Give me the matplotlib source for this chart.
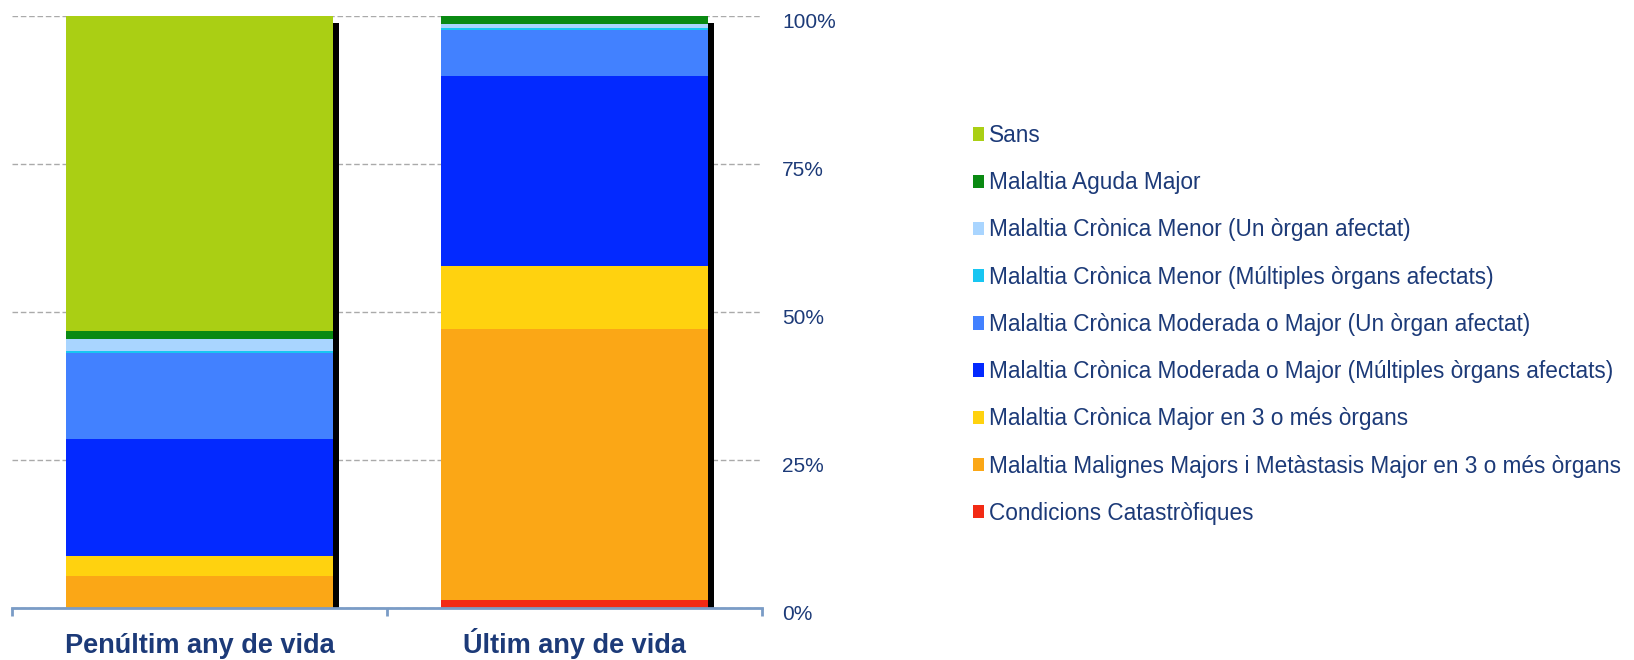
import matplotlib
matplotlib.use("Agg")
import matplotlib.pyplot as plt
import matplotlib.transforms as mtransforms
from matplotlib.patches import Patch
import numpy as np

plt.rcParams['font.family'] = ['Liberation Sans', 'DejaVu Sans']

categories = ["Penúltim any de vida", "Últim any de vida"]
# stacked bottom -> top
series_names = [
    "Condicions Catastròfiques",
    "Malaltia Malignes Majors i Metàstasis Major en 3 o més òrgans",
    "Malaltia Crònica Major en 3 o més òrgans",
    "Malaltia Crònica Moderada o Major (Múltiples òrgans afectats)",
    "Malaltia Crònica Moderada o Major (Un òrgan afectat)",
    "Malaltia Crònica Menor (Múltiples òrgans afectats)",
    "Malaltia Crònica Menor (Un òrgan afectat)",
    "Malaltia Aguda Major",
    "Sans",
]
catastrofiques = [0.0, 1.4]
malignes = [5.4, 45.7]
cronica_major_3 = [3.3, 10.7]
moderada_multiples = [19.8, 32.0]
moderada_un = [14.5, 7.9]
menor_multiples = [0.4, 0.3]
menor_un = [2.0, 0.6]
aguda_major = [1.4, 1.4]
sans = [53.2, 0.0]
series_values = [catastrofiques, malignes, cronica_major_3, moderada_multiples,
                 moderada_un, menor_multiples, menor_un, aguda_major, sans]
colors = ["#F22A14", "#FBA716", "#FFD20F", "#0329FF", "#4281FF",
          "#18C6F2", "#A9D5FF", "#0A8A12", "#AACF14"]
ytick_labels = ["0%", "25%", "50%", "75%", "100%"]

W, H = 1634, 660
fig = plt.figure(figsize=(W / 100, H / 100), dpi=100)
ax = fig.add_axes([12 / W, 1 - 608 / H, 750 / W, 592 / H])

x = np.arange(len(categories))
bw = 0.71
navy = "#1C3A78"

# shadow strips behind bars
ax.bar(x + 0.018, [98.8] * len(x), width=bw, color="black", zorder=1)

bottom = np.zeros(len(x))
handles = []
for name, vals, c in zip(series_names, series_values, colors):
    vals = np.array(vals, dtype=float)
    ax.bar(x, vals, bottom=bottom, width=bw, color=c, edgecolor="none", zorder=2)
    bottom += vals
    handles.append(Patch(facecolor=c, edgecolor="none", label=name))

ax.set_xlim(-0.5, 1.5)
ax.set_ylim(0, 100)
ax.set_yticks([0, 25, 50, 75, 100])
ax.set_yticklabels(ytick_labels)
ax.yaxis.tick_right()
ax.tick_params(axis="y", length=0, pad=14.5, labelsize=15, labelcolor=navy)
offset = mtransforms.ScaledTranslation(0, -4 / 100, fig.dpi_scale_trans)
for lbl in ax.get_yticklabels():
    lbl.set_transform(lbl.get_transform() + offset)
ax.grid(axis="y", linestyle=(0, (4, 2)), color="#AAAAAA", linewidth=1.0, zorder=0)
ax.set_axisbelow(True)

ax.set_xticks(x)
ax.set_xticklabels(categories, fontsize=19.5, fontweight="bold", color=navy,
                   va="baseline")
ax.tick_params(axis="x", which="major", length=0, pad=32.4)
ax.set_xticks([-0.5, 0.5, 1.5], minor=True)
ax.tick_params(axis="x", which="minor", length=6, width=2, color="#7A9CC6", direction="out")

for s in ["left", "top", "right"]:
    ax.spines[s].set_visible(False)
ax.spines["bottom"].set_color("#7A9CC6")
ax.spines["bottom"].set_linewidth(2)

fig.legend(handles=handles[::-1], loc="upper left",
           bbox_to_anchor=(973 / W, 1 - 124 / H), frameon=False,
           fontsize=16.3, labelcolor=navy, handlelength=0.49, handleheight=0.53,
           handletextpad=0.22, labelspacing=1.07, borderpad=0, borderaxespad=0)

fig.savefig("out.png", dpi=100)
